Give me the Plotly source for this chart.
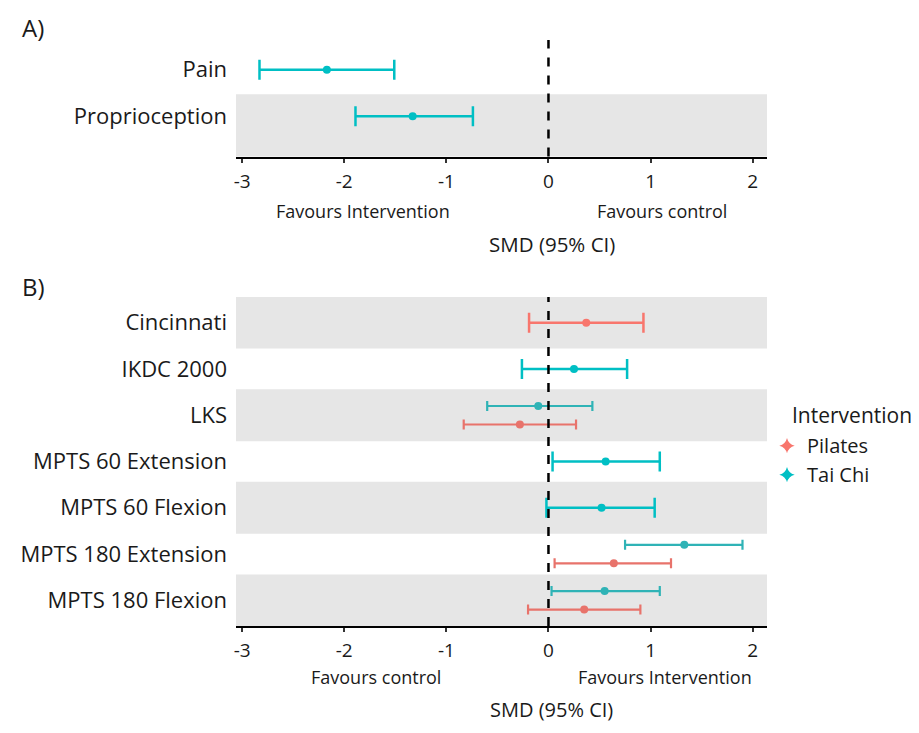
import plotly.graph_objects as go

# ---------------- data ----------------
a_outcomes = ["Pain", "Proprioception"]
a_smd = [-2.17, -1.33]
a_lo = [-2.83, -1.89]
a_hi = [-1.51, -0.74]

b_outcomes = ["Cincinnati", "IKDC 2000", "LKS", "MPTS 60 Extension",
              "MPTS 60 Flexion", "MPTS 180 Extension", "MPTS 180 Flexion"]

pil_outcomes = ["Cincinnati", "LKS", "MPTS 180 Extension", "MPTS 180 Flexion"]
pil_smd = [0.37, -0.28, 0.64, 0.35]
pil_lo = [-0.19, -0.83, 0.06, -0.20]
pil_hi = [0.93, 0.27, 1.20, 0.90]

tai_outcomes = ["IKDC 2000", "LKS", "MPTS 60 Extension", "MPTS 60 Flexion",
                "MPTS 180 Extension", "MPTS 180 Flexion"]
tai_smd = [0.25, -0.10, 0.56, 0.52, 1.33, 0.55]
tai_lo = [-0.26, -0.60, 0.04, -0.02, 0.75, 0.03]
tai_hi = [0.77, 0.43, 1.09, 1.04, 1.90, 1.09]

x_ticks = [-3, -2, -1, 0, 1, 2]

RED = "#F8766D"
TEAL = "#00BFC4"
RED_D = "#E8736B"
TEAL_D = "#2FB3B6"
FONT = "Open Sans"
TXT = "#1a1a1a"
BAND = "#E6E6E6"

fig = go.Figure()

# ---------------- panel A ----------------
a_pos = {o: len(a_outcomes) - i for i, o in enumerate(a_outcomes)}
fig.add_trace(go.Scatter(
    x=a_smd, y=[a_pos[o] for o in a_outcomes], mode="markers",
    marker=dict(color=TEAL, size=8),
    error_x=dict(type="data", symmetric=False,
                 array=[h - m for h, m in zip(a_hi, a_smd)],
                 arrayminus=[m - l for m, l in zip(a_smd, a_lo)],
                 color=TEAL, thickness=2.5, width=10),
    xaxis="x", yaxis="y", showlegend=False, hoverinfo="skip"))

# ---------------- panel B ----------------
b_pos = {o: len(b_outcomes) - i for i, o in enumerate(b_outcomes)}
both = set(pil_outcomes) & set(tai_outcomes)


def add_series(outs, smd, lo, hi, color, color_d, offset):
    for dodged in (False, True):
        idx = [i for i, o in enumerate(outs) if (o in both) == dodged]
        if not idx:
            continue
        c = color_d if dodged else color
        fig.add_trace(go.Scatter(
            x=[smd[i] for i in idx],
            y=[b_pos[outs[i]] + (offset if dodged else 0) for i in idx],
            mode="markers", marker=dict(color=c, size=8),
            error_x=dict(type="data", symmetric=False,
                         array=[hi[i] - smd[i] for i in idx],
                         arrayminus=[smd[i] - lo[i] for i in idx],
                         color=c, thickness=2.5 if not dodged else 2.2,
                         width=10 if not dodged else 5),
            xaxis="x2", yaxis="y2", showlegend=False, hoverinfo="skip"))


add_series(pil_outcomes, pil_smd, pil_lo, pil_hi, RED, RED_D, -0.2)
add_series(tai_outcomes, tai_smd, tai_lo, tai_hi, TEAL, TEAL_D, 0.2)

# legend entries
for name, col in (("Pilates", RED), ("Tai Chi", TEAL)):
    fig.add_trace(go.Scatter(x=[None], y=[None], mode="markers", name=name,
                             marker=dict(color=col, size=11, symbol="star-diamond"),
                             xaxis="x2", yaxis="y2", showlegend=True))

# ---------------- shapes ----------------
shapes = []
shapes.append(dict(type="rect", xref="x domain", yref="y", x0=0, x1=1,
                   y0=0.0, y1=1.47, fillcolor=BAND, line_width=0, layer="below"))
for o in b_outcomes:
    p = b_pos[o]
    if p % 2 == 1:
        shapes.append(dict(type="rect", xref="x2 domain", yref="y2", x0=0, x1=1,
                           y0=p - 0.56, y1=p + 0.56, fillcolor=BAND, line_width=0,
                           layer="below"))
for xr, yr in (("x", "y domain"), ("x2", "y2 domain")):
    shapes.append(dict(type="line", xref=xr, yref=yr, x0=0, x1=0, y0=0, y1=1,
                       line=dict(color="black", width=2.5, dash="dash")))

# ---------------- annotations ----------------
ann = []
def txt(text, x, y, xref, size, xanchor="center"):
    ann.append(dict(text=text, x=x, y=y, xref=xref, yref="paper", showarrow=False,
                    xanchor=xanchor, yanchor="middle",
                    font=dict(family=FONT, size=size, color=TXT)))

txt("Favours Intervention", -1.82, 0.708, "x", 18)
txt("Favours control", 1.11, 0.708, "x", 18)
txt("SMD (95% CI)", 0.03, 0.652, "x", 20.5)
txt("Favours control", -1.69, -0.087, "x2", 18)
txt("Favours Intervention", 1.14, -0.087, "x2", 18)
txt("SMD (95% CI)", 0.03, -0.143, "x2", 20)
txt("A)", -0.382, 1.022, "paper", 24)
txt("B)", -0.382, 0.5785, "paper", 24)
txt("Intervention", 1.044, 0.360, "paper", 21, "left")

xcommon = dict(range=[-3.06, 2.14], tickvals=x_ticks, ticktext=[str(v) for v in x_ticks],
               showgrid=False, zeroline=False, showline=True, linecolor="black",
               linewidth=2.2, ticks="outside", ticklen=4, tickwidth=1.5,
               tickcolor="#333333", tickfont=dict(family=FONT, size=19, color=TXT),
               ticklabelstandoff=2, fixedrange=True)

fig.update_layout(
    width=911, height=717,
    margin=dict(l=220, r=152, t=32, b=99),
    paper_bgcolor="white", plot_bgcolor="white",
    xaxis=dict(domain=[0, 1], anchor="y", **xcommon),
    yaxis=dict(domain=[0.801, 1], anchor="x", range=[0.133, 2.637],
               tickvals=[a_pos[o] for o in a_outcomes], ticktext=a_outcomes,
               showgrid=False, zeroline=False, showline=False, ticks="",
               ticklabelstandoff=8, tickfont=dict(family=FONT, size=22, color=TXT)),
    xaxis2=dict(domain=[0, 1], anchor="y2", **xcommon),
    yaxis2=dict(domain=[0, 0.5614], anchor="x2", range=[0.445, 7.555],
                tickvals=[b_pos[o] for o in b_outcomes], ticktext=b_outcomes,
                showgrid=False, zeroline=False, showline=False, ticks="",
                ticklabelstandoff=8, tickfont=dict(family=FONT, size=22, color=TXT)),
    shapes=shapes, annotations=ann,
    legend=dict(x=1.0, xanchor="left", y=0.341, yanchor="top",
                font=dict(family=FONT, size=20, color=TXT), itemwidth=30,
                tracegroupgap=0, bgcolor="rgba(0,0,0,0)"),
)

fig.write_html("out.html")
